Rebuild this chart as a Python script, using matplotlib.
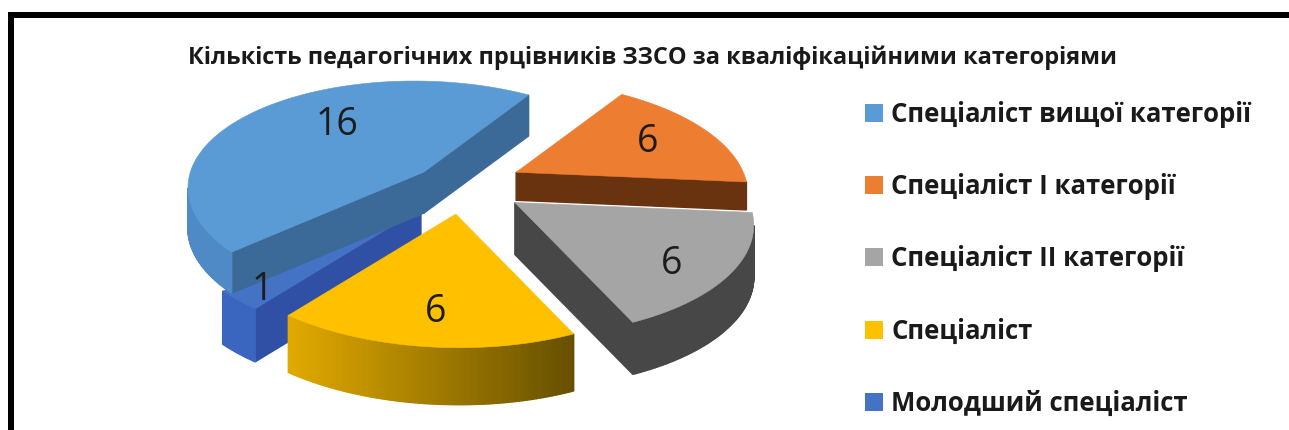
import numpy as np
import matplotlib
matplotlib.use('Agg')
import matplotlib.pyplot as plt
from matplotlib.patches import Patch, Polygon, Rectangle
from matplotlib.colors import to_rgb

plt.rcParams['font.family'] = ['Open Sans', 'DejaVu Sans']

title = 'Кількість педагогічних прцівників ЗЗСО за кваліфікаційними категоріями'
categories = ['Спеціаліст вищої категорії', 'Спеціаліст І категорії', 'Спеціаліст ІІ категорії',
              'Спеціаліст', 'Молодший спеціаліст']
values = [16, 6, 6, 6, 1]

top_colors = ['#5b9bd5', '#ed7d31', '#a5a5a5', '#ffc000', '#4472c4']
side_colors = ['#3c6a98', '#6a3310', '#474747', '#6b4f00', '#2f50a4']
arc_from = ['#4f8ac6', '#9c4f18', '#474747', '#e2aa00', '#3b66c0']
arc_to = ['#4f8ac6', '#9c4f18', '#474747', '#665000', '#3b66c0']
explode_x = [0.56, 1.15, 1.03, 0.4, 0.93]
explode_y = [1.22, 1.1, 1.0, 0.86, 0.8]
radius = [0.97, 0.98, 1.01, 1.01, 1.0]
depth = [41, 28, 52, 57, 53]
label_xy = [(337, 125), (648, 142), (672, 264), (436, 312), (262, 290)]

# pie plane -> screen, fitted by eye to the tilted pie in the picture
center = np.array([455.0, 190.0])
first_edge = 24 - 360 * values[0] / sum(values)
a, b, c, d, g, h = 234.21, 31.72, 18.059, -108.273, -0.009, 0.171


def project(phi):
    u, v = np.sin(phi), np.cos(phi)
    w = 1 + g * u + h * v
    return np.column_stack([(a * u + b * v) / w, (c * u + d * v) / w])


def draw_slice(ax, start, stop, offset, scale, top, side, col0, col1, dz, z):
    phi = np.radians(np.linspace(start, stop, int((stop - start) * 2) + 2))
    apex = center + offset
    arc = apex + scale * project(phi)
    pts = np.vstack([apex, arc])
    n = len(pts)
    for i in range(n):
        p, q = pts[i], pts[(i + 1) % n]
        # only the faces turned towards the viewer
        if q[0] >= p[0]:
            continue
        if i == 0 or i == n - 1:
            color = side
        else:
            t = 1 - (p[0] - arc[:, 0].min()) / max(np.ptp(arc[:, 0]), 1)
            color = tuple((1 - t) * np.array(to_rgb(col1)) + t * np.array(to_rgb(col0)))
        quad = [p, q, q + [0, dz], p + [0, dz]]
        ax.add_patch(Polygon(quad, closed=True, fc=color, ec=color, lw=1.0, zorder=z))
    ax.add_patch(Polygon(pts, closed=True, fc=top, ec=top, lw=0.4, zorder=z + 0.5))


fig = plt.figure(figsize=(12.89, 4.3), dpi=100, facecolor='white')
ax = fig.add_axes([0, 0, 1, 1])
ax.set_xlim(0, 1289)
ax.set_ylim(430, 0)
ax.axis('off')

# black frame, open on the right and at the bottom
ax.add_patch(Rectangle((8, 12), 1281, 6, fc='black', ec='none', zorder=10))
ax.add_patch(Rectangle((8, 12), 6, 418, fc='black', ec='none', zorder=10))

ax.text(652, 58, title, ha='center', va='center', fontsize=16.95, fontweight='bold', color='#1a1a1a')

edges = first_edge + np.r_[0, np.cumsum(values)] * 360 / sum(values)
order = [1, 2, 4, 0, 3]
for i in order:
    mid = np.radians((edges[i] + edges[i + 1]) / 2)
    offset = np.array([explode_x[i] * 65 * np.sin(mid), -explode_y[i] * 28 * np.cos(mid)])
    draw_slice(ax, edges[i], edges[i + 1], offset, radius[i], top_colors[i], side_colors[i],
               arc_from[i], arc_to[i], depth[i], 2 + order.index(i))

for v, (x, y) in zip(values, label_xy):
    ax.text(x, y, str(v), ha='center', va='center', fontsize=27, color='#1c1c1c', zorder=20)

handles = [Patch(fc=col, ec='none') for col in top_colors]
ax.legend(handles, categories, loc='upper left', bbox_to_anchor=(865 / 1289, 1 - 101 / 430), frameon=False,
          prop={'size': 18.5, 'weight': 'bold'}, handlelength=0.7, handleheight=0.7,
          handletextpad=0.33, labelspacing=1.76, labelcolor='#1a1a1a', borderpad=0, borderaxespad=0)

fig.savefig('out.png', dpi=100)
